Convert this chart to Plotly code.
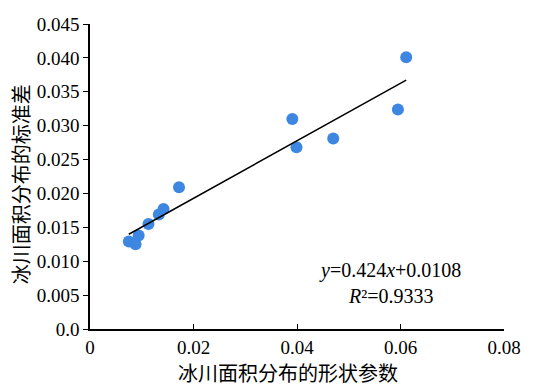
import plotly.graph_objects as go

# data
shape_param = [0.0075, 0.0088, 0.0094, 0.0113, 0.0133, 0.0142, 0.0172,
               0.0391, 0.0399, 0.0470, 0.0595, 0.0611]
area_std = [0.0129, 0.0125, 0.0138, 0.0155, 0.0169, 0.0177, 0.0209,
            0.0310, 0.0268, 0.0281, 0.0324, 0.0401]
slope = 0.424
intercept = 0.0108
r2_text = "0.9333"

x_ticks = [0, 0.02, 0.04, 0.06, 0.08]
x_ticktext = ["0", "0.02", "0.04", "0.06", "0.08"]
y_ticks = [0, 0.005, 0.010, 0.015, 0.020, 0.025, 0.030, 0.035, 0.040, 0.045]
y_ticktext = ["0.0", "0.005", "0.010", "0.015", "0.020", "0.025", "0.030", "0.035", "0.040", "0.045"]

x_title = "冰川面积分布的形状参数"
y_title = "冰川面积分布的标准差"

SERIF = "Liberation Serif"
CJK = "Noto Sans CJK SC"

x_line = [min(shape_param), max(shape_param)]
y_line = [slope * v + intercept for v in x_line]

fig = go.Figure()
fig.add_trace(go.Scatter(x=shape_param, y=area_std, mode="markers",
                         marker=dict(color="#3d87e2", size=12), showlegend=False,
                         cliponaxis=False))
fig.add_trace(go.Scatter(x=x_line, y=y_line, mode="lines",
                         line=dict(color="black", width=1.5), showlegend=False))

fig.add_annotation(x=0.058, y=0.0068, xref="x", yref="y",
                   text=f"<i>y</i>=0.424<i>x</i>+0.0108<br><i>R</i>²={r2_text}",
                   showarrow=False, align="center",
                   font=dict(family=SERIF, size=20, color="black"))

# axis titles
fig.add_annotation(x=-0.169, y=0.475, xref="paper", yref="paper",
                   text=y_title, textangle=-90, showarrow=False,
                   xanchor="center", yanchor="middle",
                   font=dict(family=CJK, size=20, color="black"))
fig.add_annotation(x=0.478, y=-0.141, xref="paper", yref="paper",
                   text=x_title, showarrow=False,
                   xanchor="center", yanchor="middle",
                   font=dict(family=CJK, size=20, color="black"))

tickfont = dict(family=SERIF, size=19, color="black")

fig.update_layout(
    width=535, height=390,
    margin=dict(l=90, r=31, t=24, b=61),
    paper_bgcolor="white", plot_bgcolor="white",
    font=dict(family=SERIF, size=19, color="black"),
    xaxis=dict(range=[0, 0.08], tickvals=x_ticks, ticktext=x_ticktext,
               tickfont=tickfont, automargin=False,
               showgrid=False, zeroline=False, showline=True, linecolor="black",
               linewidth=1.5, ticks="inside", ticklen=5, tickcolor="black"),
    yaxis=dict(range=[0, 0.045], tickvals=y_ticks, ticktext=y_ticktext,
               tickfont=tickfont, automargin=False,
               showgrid=False, zeroline=False, showline=True, linecolor="black",
               linewidth=1.5, ticks="outside", ticklen=5, tickcolor="black"),
)

fig.write_html("out.html", config={"displayModeBar": False},
               post_script="document.body.style.margin='0px';")
